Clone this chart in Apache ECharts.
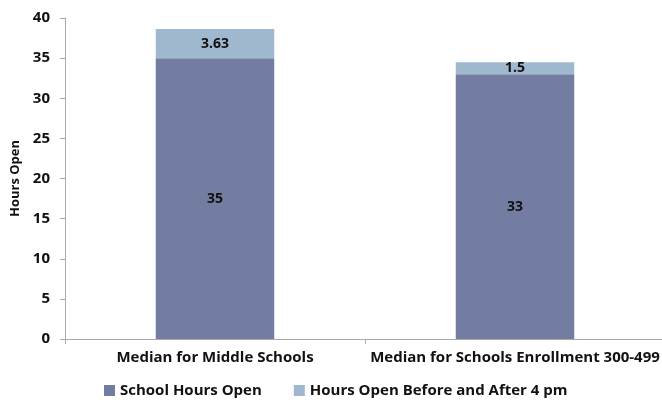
<!DOCTYPE html>
<html><head><meta charset="utf-8">
<script src="https://cdn.jsdelivr.net/npm/echarts@6/dist/echarts.min.js"></script>
<style>html,body{margin:0;padding:0;background:#fff}#c{width:662px;height:400px}</style>
</head><body><div id="c"></div>
<script>
const categories = ['Median for Middle Schools', 'Median for Schools Enrollment 300-499'];
const schoolHours = [35, 33];
const extraHours = [3.63, 1.5];
const seriesNames = ['School Hours Open', 'Hours Open Before and After 4 pm'];
const yTicks = { min: 0, max: 40, interval: 5 };

const font = '"Open Sans", Lato, sans-serif';
const chart = echarts.init(document.getElementById('c'));
chart.setOption({
  animation: false,
  grid: { left: 65, right: -3, top: 18, bottom: 61, containLabel: false, outerBoundsMode: 'none' },
  legend: {
    bottom: -3, left: 99, itemWidth: 11, itemHeight: 11, itemGap: 32,
    icon: 'rect',
    textStyle: { fontFamily: font, fontWeight: 'bold', fontSize: 15, color: '#111' },
    data: seriesNames
  },
  xAxis: {
    type: 'category', data: categories,
    axisLine: { lineStyle: { color: '#aaa' } },
    axisTick: { show: true, alignWithLabel: false, lineStyle: { color: '#aaa' }, length: 5 },
    axisLabel: { interval: 0, fontFamily: font, fontWeight: 'bold', fontSize: 15, color: '#111', margin: 11 }
  },
  yAxis: {
    type: 'value', min: yTicks.min, max: yTicks.max, interval: yTicks.interval,
    name: 'Hours Open', nameLocation: 'middle', nameGap: 41, nameRotate: 90,
    nameTextStyle: { fontFamily: font, fontWeight: 'bold', fontSize: 13, color: '#111' },
    axisLine: { show: true, lineStyle: { color: '#aaa' } },
    axisTick: { show: true, length: 5, lineStyle: { color: '#aaa' } },
    splitLine: { show: false },
    axisLabel: { fontFamily: font, fontWeight: 'bold', fontSize: 15, color: '#111', margin: 15 }
  },
  series: [
    {
      name: seriesNames[0], type: 'bar', stack: 'a', data: schoolHours, barWidth: '39.5%',
      itemStyle: { color: '#737DA2' },
      label: { show: true, position: 'inside', fontFamily: font, fontWeight: 'bold', fontSize: 14, color: '#111' }
    },
    {
      name: seriesNames[1], type: 'bar', stack: 'a', data: extraHours, barWidth: '39.5%',
      itemStyle: { color: '#A0B8CE' },
      label: { show: true, position: 'inside', fontFamily: font, fontWeight: 'bold', fontSize: 14, color: '#111' }
    }
  ]
});
</script></body></html>
